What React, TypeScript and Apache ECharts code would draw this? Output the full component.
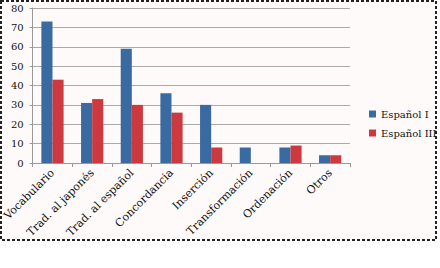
import React, { useEffect, useRef } from "react";
import * as echarts from "echarts";

const categories = ["Vocabulario", "Trad. al japonés", "Trad. al español", "Concordancia", "Inserción", "Transformación", "Ordenación", "Otros"];
const espanolI = [73, 31, 59, 36, 30, 8, 8, 4];
const espanolIII = [43, 33, 30, 26, 8, 0, 9, 4];
const seriesNames = ["Español I", "Español III"];

const FONT = "DejaVu Serif, serif";

export default function App() {
  const ref = useRef<HTMLDivElement>(null);
  useEffect(() => {
    if (!ref.current) return;
    const chart = echarts.init(ref.current, undefined, { renderer: "svg" });
    chart.setOption({
      animation: false,
      backgroundColor: "#ffffff",
      textStyle: { fontFamily: FONT },
      graphic: [
        {
          type: "rect",
          z: -1,
          shape: { x: 1, y: 1, width: 435, height: 239 },
          style: { fill: "#fefafa", stroke: "#222", lineWidth: 2, lineDash: [3, 2] },
          silent: true,
        },
      ],
      grid: { left: 31, right: 90, top: 8, bottom: 105, containLabel: false },
      legend: {
        orient: "vertical",
        left: 364,
        top: 104,
        itemWidth: 7,
        itemHeight: 7,
        itemGap: 9,
        itemStyle: { borderWidth: 0 },
        icon: "rect",
        textStyle: { fontFamily: FONT, fontSize: 10, color: "#111" },
        data: seriesNames,
      },
      xAxis: {
        type: "category",
        data: categories,
        axisLine: { lineStyle: { color: "#999" } },
        axisTick: { show: true, length: 4, lineStyle: { color: "#999" } },
        axisLabel: { rotate: 45, fontFamily: FONT, fontSize: 11, color: "#111", margin: 8, interval: 0 },
      },
      yAxis: {
        type: "value",
        min: 0,
        max: 80,
        interval: 10,
        axisLine: { show: true, lineStyle: { color: "#999" } },
        axisTick: { show: true, length: 3, lineStyle: { color: "#999" } },
        axisLabel: { fontFamily: FONT, fontSize: 10, color: "#111", margin: 9 },
        splitLine: { lineStyle: { color: "#aaa", width: 1 } },
      },
      series: [
        {
          name: seriesNames[0],
          type: "bar",
          data: espanolI,
          barGap: "0%",
          barCategoryGap: "44%",
          itemStyle: { color: "#3a6aa2" },
        },
        {
          name: seriesNames[1],
          type: "bar",
          data: espanolIII,
          itemStyle: { color: "#cc3a40" },
        },
      ],
    });
    return () => chart.dispose();
  }, []);
  return <div ref={ref} style={{ width: 440, height: 268, position: "absolute", left: 0, top: 0 }} />;
}
